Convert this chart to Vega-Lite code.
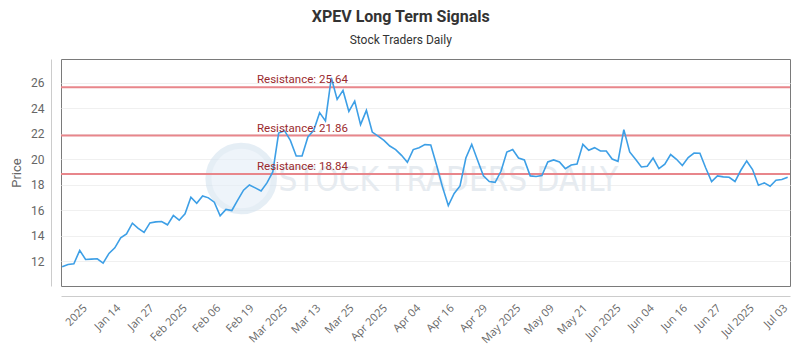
{
  "$schema": "https://vega.github.io/schema/vega-lite/v6.json",
  "width": 729,
  "height": 227,
  "autosize": {"type": "none"},
  "padding": {"left": 61, "top": 59, "right": 10, "bottom": 64},
  "background": "white",
  "title": {
    "text": "XPEV Long Term Signals",
    "subtitle": "Stock Traders Daily",
    "anchor": "middle",
    "frame": "bounds",
    "font": "Roboto",
    "fontSize": 16,
    "fontWeight": "bold",
    "color": "#333333",
    "subtitleFont": "Roboto",
    "subtitleFontSize": 12,
    "subtitleColor": "#333333",
    "subtitlePadding": 10,
    "offset": 13
  },
  "config": {
    "view": {"stroke": "#7a7a7a", "strokeWidth": 1},
    "axis": {"labelFont": "Roboto", "titleFont": "Roboto", "labelOverlap": false},
    "axisX": {"labelOverlap": false, "labelBound": false, "labelFlush": false},
    "axisY": {"labelOverlap": false}
  },
  "datasets": {
    "prices": [
      {"i": 0, "price": 11.59}, {"i": 1, "price": 11.77}, {"i": 2, "price": 11.82}, {"i": 3, "price": 12.87},
      {"i": 4, "price": 12.16}, {"i": 5, "price": 12.18}, {"i": 6, "price": 12.21}, {"i": 7, "price": 11.87},
      {"i": 8, "price": 12.63}, {"i": 9, "price": 13.07}, {"i": 10, "price": 13.85}, {"i": 11, "price": 14.16},
      {"i": 12, "price": 15.0}, {"i": 13, "price": 14.59}, {"i": 14, "price": 14.27}, {"i": 15, "price": 15.02},
      {"i": 16, "price": 15.1}, {"i": 17, "price": 15.13}, {"i": 18, "price": 14.87}, {"i": 19, "price": 15.6},
      {"i": 20, "price": 15.23}, {"i": 21, "price": 15.73}, {"i": 22, "price": 17.03}, {"i": 23, "price": 16.56},
      {"i": 24, "price": 17.13}, {"i": 25, "price": 16.98}, {"i": 26, "price": 16.64}, {"i": 27, "price": 15.57},
      {"i": 28, "price": 16.07}, {"i": 29, "price": 15.99}, {"i": 30, "price": 16.8}, {"i": 31, "price": 17.58},
      {"i": 32, "price": 17.99}, {"i": 33, "price": 17.76}, {"i": 34, "price": 17.52}, {"i": 35, "price": 18.15},
      {"i": 36, "price": 19.01}, {"i": 37, "price": 22.05}, {"i": 38, "price": 22.24}, {"i": 39, "price": 21.48},
      {"i": 40, "price": 20.26}, {"i": 41, "price": 20.26}, {"i": 42, "price": 21.75}, {"i": 43, "price": 22.27},
      {"i": 44, "price": 23.65}, {"i": 45, "price": 23.0}, {"i": 46, "price": 26.38}, {"i": 47, "price": 24.69},
      {"i": 48, "price": 25.39}, {"i": 49, "price": 23.75}, {"i": 50, "price": 24.55}, {"i": 51, "price": 22.71},
      {"i": 52, "price": 23.83}, {"i": 53, "price": 22.13}, {"i": 54, "price": 21.82}, {"i": 55, "price": 21.48},
      {"i": 56, "price": 21.04}, {"i": 57, "price": 20.76}, {"i": 58, "price": 20.31}, {"i": 59, "price": 19.77},
      {"i": 60, "price": 20.76}, {"i": 61, "price": 20.91}, {"i": 62, "price": 21.15}, {"i": 63, "price": 21.12},
      {"i": 64, "price": 19.53}, {"i": 65, "price": 17.84}, {"i": 66, "price": 16.38}, {"i": 67, "price": 17.32},
      {"i": 68, "price": 17.91}, {"i": 69, "price": 20.1}, {"i": 70, "price": 21.17}, {"i": 71, "price": 19.92},
      {"i": 72, "price": 18.7}, {"i": 73, "price": 18.26}, {"i": 74, "price": 18.2}, {"i": 75, "price": 19.06},
      {"i": 76, "price": 20.57}, {"i": 77, "price": 20.76}, {"i": 78, "price": 20.1}, {"i": 79, "price": 19.95},
      {"i": 80, "price": 18.7}, {"i": 81, "price": 18.65}, {"i": 82, "price": 18.73}, {"i": 83, "price": 19.79},
      {"i": 84, "price": 19.95}, {"i": 85, "price": 19.79}, {"i": 86, "price": 19.27}, {"i": 87, "price": 19.55},
      {"i": 88, "price": 19.63}, {"i": 89, "price": 21.17}, {"i": 90, "price": 20.7}, {"i": 91, "price": 20.91},
      {"i": 92, "price": 20.65}, {"i": 93, "price": 20.65}, {"i": 94, "price": 20.02}, {"i": 95, "price": 19.84},
      {"i": 96, "price": 22.32}, {"i": 97, "price": 20.57}, {"i": 98, "price": 20.0}, {"i": 99, "price": 19.4},
      {"i": 100, "price": 19.45}, {"i": 101, "price": 20.1}, {"i": 102, "price": 19.27}, {"i": 103, "price": 19.61},
      {"i": 104, "price": 20.37}, {"i": 105, "price": 20.0}, {"i": 106, "price": 19.51}, {"i": 107, "price": 20.13},
      {"i": 108, "price": 20.49}, {"i": 109, "price": 20.47}, {"i": 110, "price": 19.32}, {"i": 111, "price": 18.26},
      {"i": 112, "price": 18.7}, {"i": 113, "price": 18.62}, {"i": 114, "price": 18.59}, {"i": 115, "price": 18.26},
      {"i": 116, "price": 19.14}, {"i": 117, "price": 19.87}, {"i": 118, "price": 19.2}, {"i": 119, "price": 17.97},
      {"i": 120, "price": 18.15}, {"i": 121, "price": 17.89}, {"i": 122, "price": 18.36}, {"i": 123, "price": 18.41},
      {"i": 124, "price": 18.59}
    ],
    "levels": [
      {"level": 25.64, "label": "Resistance: 25.64"},
      {"level": 21.86, "label": "Resistance: 21.86"},
      {"level": 18.84, "label": "Resistance: 18.84"}
    ],
    "watermark": [{"text": "STOCK TRADERS DAILY"}]
  },
  "encoding": {
    "x": {
      "type": "quantitative",
      "scale": {"domain": [-0.2, 124.4], "nice": false, "zero": false},
      "axis": {
        "title": null,
        "offset": 10,
        "grid": false,
        "ticks": false,
        "domainColor": "#cccccc",
        "labelAngle": -45,
        "labelAlign": "right",
        "labelBaseline": "top",
        "labelFont": "Open Sans",
        "labelFontSize": 11,
        "labelColor": "#666666",
        "labelPadding": 6,
        "labelOverlap": false,
        "labelBound": false,
        "labelFlush": false,
        "values": [3.2, 8.9, 14.6, 20.3, 26.0, 31.7, 37.4, 43.1, 48.8, 54.5, 60.2, 65.9, 71.6, 77.3, 83.0, 88.7, 94.4, 100.1, 105.8, 111.5, 117.2, 122.9],
        "labelExpr": "['2025','Jan 14','Jan 27','Feb 2025','Feb 06','Feb 19','Mar 2025','Mar 13','Mar 25','Apr 2025','Apr 04','Apr 16','Apr 29','May 2025','May 09','May 21','Jun 2025','Jun 04','Jun 16','Jun 27','Jul 2025','Jul 03'][round((datum.value - 3.2) / 5.7)]"
      }
    },
    "y": {
      "type": "quantitative",
      "scale": {"domain": [10.08, 27.85], "nice": false, "zero": false},
      "axis": {
        "title": "Price",
        "titleFontSize": 13,
        "titleFontWeight": "normal",
        "titleColor": "#666666",
        "titlePadding": 7,
        "offset": 10,
        "values": [12, 14, 16, 18, 20, 22, 24, 26],
        "grid": true,
        "gridColor": "#f0f0f0",
        "ticks": false,
        "domainColor": "#cccccc",
        "labelFontSize": 12,
        "labelColor": "#666666",
        "labelPadding": 7,
        "labelOverlap": false
      }
    }
  },
  "layer": [
    {
      "data": {"name": "watermark"},
      "mark": {"type": "point", "filled": true, "size": 4300, "color": "#e3edf7", "opacity": 0.6, "stroke": "#d5e3f0", "strokeWidth": 6},
      "encoding": {
        "x": {"datum": 30.6},
        "y": {"datum": 18.5}
      }
    },
    {
      "data": {"name": "watermark"},
      "mark": {"type": "text", "font": "DejaVu Sans Condensed, Roboto Condensed, Roboto", "fontSize": 33, "color": "#e6ebf0", "align": "center", "baseline": "middle"},
      "encoding": {
        "x": {"datum": 66.0},
        "y": {"datum": 18.3},
        "text": {"field": "text"}
      }
    },
    {
      "data": {"name": "levels"},
      "mark": {"type": "rule", "color": "#e8868b", "strokeWidth": 2},
      "encoding": {
        "x": null,
        "y": {"field": "level"}
      }
    },
    {
      "data": {"name": "prices"},
      "mark": {"type": "line", "color": "#3d9fe6", "strokeWidth": 1.6},
      "encoding": {
        "x": {"field": "i"},
        "y": {"field": "price"}
      }
    },
    {
      "data": {"name": "levels"},
      "mark": {"type": "text", "align": "left", "baseline": "alphabetic", "dy": -4, "font": "Roboto", "fontSize": 11.5, "color": "#9a2a2e"},
      "encoding": {
        "x": {"datum": 33.3},
        "y": {"field": "level"},
        "text": {"field": "label"}
      }
    }
  ]
}
